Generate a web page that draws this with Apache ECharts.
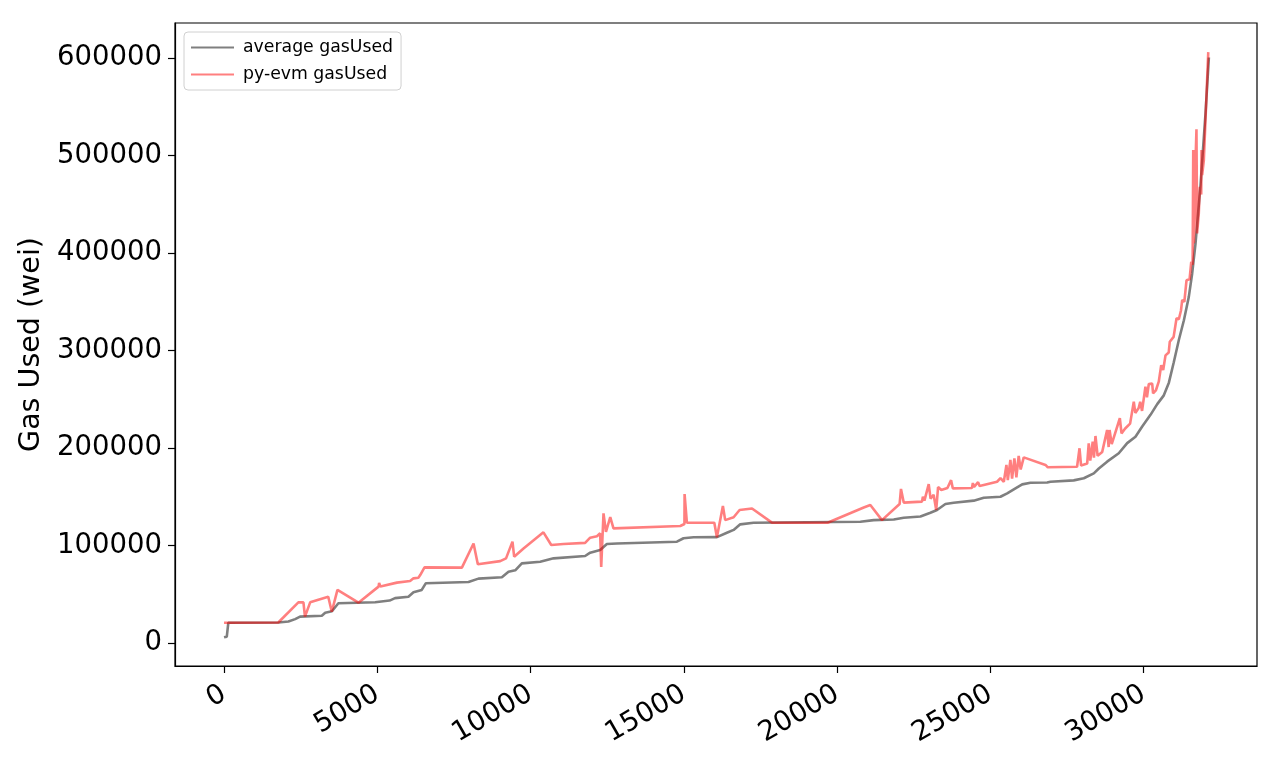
<!DOCTYPE html>
<html>
<head>
<meta charset="utf-8">
<script src="https://cdn.jsdelivr.net/npm/echarts@6/dist/echarts.min.js"></script>
<style>
  html, body { margin: 0; padding: 0; background: #fff; }
  #chart { width: 1280px; height: 768px; }
</style>
</head>
<body>
<div id="chart"></div>
<script>
// average gasUsed, sorted transaction index -> gas
const avgX = [0, 90, 140, 1770, 2100, 2320, 2480, 3190, 3300, 3520, 3730, 4930, 5400, 5580, 6015, 6180, 6450, 6580, 7975, 8300,
  9065, 9280, 9500, 9715, 10315, 10750, 11780, 11945, 12270, 12490, 12820, 14775, 14990, 15320, 16080, 16405, 16625, 16840, 17275, 20760,
  21195, 21850, 22175, 22720, 23045, 23260, 23535, 23805, 24460, 24785, 25330, 25550, 25820, 26040, 26310, 26855, 26960, 27720, 28050, 28375,
  28540, 28810, 29190, 29465, 29735, 29955, 30225, 30445, 30660, 30825, 30985, 31150, 31315, 31475, 31585, 31695, 31860, 32020, 32130]
const avgY = [5800, 6500, 20800, 21000, 22000, 24500, 27000, 28000, 31000, 32500, 40700, 41800, 43500, 46000, 47500, 52000, 54400, 61200, 62500, 66000,
  67500, 73000, 74500, 81700, 83400, 86800, 89200, 92600, 95400, 101500, 102000, 103900, 107400, 108400, 108600, 113000, 116000, 121700, 123400, 124400,
  126000, 126600, 128500, 129800, 133600, 136400, 142500, 143900, 146000, 149000, 150000, 153500, 158600, 162700, 164400, 164600, 165400, 166800, 169000, 174000,
  179000, 186000, 194600, 205000, 211600, 222000, 234000, 245000, 254000, 267000, 288000, 310800, 331000, 355000, 379000, 410000, 471000, 543000, 600500]

// py-evm gasUsed
const evmX = [0, 1770, 2425, 2590, 2640, 2810, 3400, 3515, 3700, 4385, 5040, 5060, 5100, 5640, 6070, 6180, 6340, 6400, 6450, 6540,
  7760, 8140, 8280, 9010, 9200, 9410, 9465, 9770, 10420, 10675, 11075, 11780, 11945, 12165, 12270, 12305, 12380, 12460, 12600, 12705,
  14885, 15020, 15025, 15100, 15995, 16080, 16275, 16350, 16625, 16820, 17225, 17875, 19690, 20870, 21085, 21465, 22040, 22085, 22175, 22770,
  22800, 22850, 22990, 23050, 23150, 23235, 23295, 23400, 23600, 23720, 23775, 24400, 24430, 24470, 24600, 24650, 25220, 25330, 25440, 25525,
  25570, 25655, 25710, 25785, 25850, 25925, 25990, 26090, 26800, 26875, 27830, 27910, 27960, 28160, 28210, 28260, 28340, 28380, 28430, 28500,
  28650, 28810, 28860, 28890, 28960, 29225, 29280, 29400, 29560, 29680, 29730, 29840, 29890, 29950, 30060, 30110, 30170, 30280, 30310, 30400,
  30495, 30575, 30640, 30715, 30820, 30855, 30920, 30980, 31075, 31150, 31220, 31260, 31330, 31400, 31500, 31555, 31600, 31620, 31640, 31700,
  31725, 31745, 31800, 31835, 31880, 31890, 31910, 31965, 32110]
const evmY = [20800, 21000, 41700, 41700, 27000, 41700, 47500, 32000, 54400, 41300, 57800, 61500, 58000, 61900, 63500, 66300, 67000, 69700, 68000, 77600,
  77300, 102000, 80700, 84000, 86800, 104000, 88500, 97000, 113500, 100500, 101500, 102700, 108000, 109500, 112500, 78000, 133000, 114000, 129000, 117600,
  120000, 122000, 152800, 123400, 123400, 108400, 140500, 126000, 129000, 136400, 138000, 123400, 123400, 139000, 141500, 126000, 142500, 158000, 144000, 145000,
  150000, 146000, 163000, 148000, 152000, 136400, 160000, 157000, 159000, 167000, 158600, 159000, 164000, 160000, 165000, 161000, 165400, 169000, 165400, 182600,
  167000, 187700, 168500, 189400, 170000, 191800, 178000, 190400, 182600, 180200, 180800, 199700, 182000, 184000, 204800, 187000, 206500, 190000, 212300, 192000,
  196000, 218500, 201000, 218500, 204000, 230500, 215000, 220000, 225000, 247500, 236000, 241000, 247500, 238000, 263000, 252000, 265600, 266000, 256000, 259000,
  268000, 285000, 280000, 295000, 298000, 309000, 307000, 314000, 333000, 332000, 341000, 351800, 350000, 372000, 373000, 391000, 388000, 505600, 410000, 500000,
  527000, 420000, 440000, 468000, 460000, 505600, 480000, 495000, 606000]

const xTicks = [0, 5000, 10000, 15000, 20000, 25000, 30000]
const yTicks = [0, 100000, 200000, 300000, 400000, 500000, 600000]

const zip = (xs, ys) => xs.map((x, i) => [x, ys[i]])

const chart = echarts.init(document.getElementById('chart'))
const font = 'DejaVu Sans'

chart.setOption({
  animation: false,
  textStyle: { fontFamily: font },
  grid: {
    left: 175, right: 23, top: 23, bottom: 102,
    show: true, borderColor: '#000', borderWidth: 1.2
  },
  legend: {
    left: 184, top: 32,
    orient: 'vertical',
    icon: 'rect',
    itemWidth: 43, itemHeight: 2,
    itemGap: 10,
    padding: [7, 8, 7, 7],
    borderColor: '#d0d0d0', borderWidth: 1, borderRadius: 4,
    backgroundColor: '#fff',
    textStyle: { fontFamily: font, fontSize: 17.3, color: '#000', padding: [0, 0, 0, 4] },
    data: ['average gasUsed', 'py-evm gasUsed']
  },
  xAxis: {
    type: 'value',
    min: -1600, max: 33700,
    splitLine: { show: false },
    axisLine: { onZero: false, lineStyle: { color: '#000', width: 1.2 } },
    axisTick: { customValues: xTicks, length: 7, lineStyle: { color: '#000', width: 1.2 } },
    axisLabel: {
      customValues: xTicks, rotate: 30, fontSize: 27.5, color: '#000', margin: 26, fontFamily: font,
      formatter: v => String(v)
    }
  },
  yAxis: {
    type: 'value',
    min: -23600, max: 635900,
    name: 'Gas Used (wei)',
    nameLocation: 'middle',
    nameGap: 120,
    nameTextStyle: { fontSize: 28.5, color: '#000', fontFamily: font },
    splitLine: { show: false },
    axisLine: { onZero: false, lineStyle: { color: '#000', width: 1.2 } },
    axisTick: { customValues: yTicks, length: 7, lineStyle: { color: '#000', width: 1.2 } },
    axisLabel: {
      customValues: yTicks, fontSize: 27.5, color: '#000', margin: 13, fontFamily: font,
      formatter: v => String(v)
    }
  },
  series: [
    {
      name: 'average gasUsed',
      type: 'line',
      data: zip(avgX, avgY),
      showSymbol: false,
      color: 'rgba(0,0,0,0.5)',
      lineStyle: { width: 2.6, color: 'rgba(0,0,0,0.5)' }
    },
    {
      name: 'py-evm gasUsed',
      type: 'line',
      data: zip(evmX, evmY),
      showSymbol: false,
      color: 'rgba(255,0,0,0.5)',
      lineStyle: { width: 2.6, color: 'rgba(255,0,0,0.5)' }
    }
  ]
})
</script>
</body>
</html>
